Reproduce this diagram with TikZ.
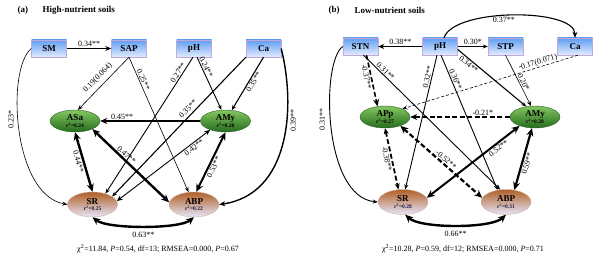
\documentclass[tikz,border=0pt]{standalone}
\usepackage{fontspec}
\setmainfont{Liberation Serif}
\usetikzlibrary{arrows.meta, shapes.geometric}

\definecolor{boxtop}{RGB}{96,158,242}
\definecolor{boxbot}{RGB}{226,236,255}
\definecolor{boxline}{RGB}{196,168,214}
\definecolor{fungtop}{RGB}{132,198,96}
\definecolor{fungbot}{RGB}{36,108,30}
\definecolor{fungline}{RGB}{46,100,40}
\definecolor{resptop}{RGB}{176,96,38}
\definecolor{respbot}{RGB}{230,230,250}
\definecolor{respline}{RGB}{205,175,160}
\definecolor{rtext}{RGB}{20,30,80}

% nom de la variable + r^2
\newcommand{\latlab}[3][black]{\textbf{#2}\\[-2.5pt]{\fontsize{5.5}{6}\selectfont\bfseries\color{#1}r\textsuperscript{2}=#3}}

\begin{document}
\begin{tikzpicture}[
    x=1pt, y=-1pt,
    font=\fontsize{8}{9}\selectfont,
    >={Stealth[length=5pt,width=4pt]},
    var/.style={draw=boxline, line width=0.4pt, top color=boxtop, bottom color=boxbot, minimum width=35pt, minimum height=17pt, inner sep=0pt, font=\fontsize{9}{10}\selectfont\bfseries},
    fung/.style={ellipse, draw=fungline, line width=0.4pt, top color=fungtop, bottom color=fungbot, minimum width=50pt, minimum height=22pt, inner sep=0pt, align=center, font=\fontsize{9}{9}\selectfont},
    resp/.style={ellipse, draw=respline, line width=0.4pt, top color=resptop, bottom color=respbot, minimum width=50pt, minimum height=25pt, inner sep=0pt, align=center, font=\fontsize{9}{9}\selectfont},
    lbl/.style={inner sep=1pt, font=\fontsize{8}{9}\selectfont},
    ttl/.style={anchor=west, font=\fontsize{9}{10}\selectfont\bfseries},
    arr/.style={->, line width=0.6pt},
    arrm/.style={->, line width=1.1pt, >={Stealth[length=6pt,width=5pt]}},
    arrs/.style={->, line width=1.6pt, >={Stealth[length=7pt,width=6pt]}},
    dbl/.style={<->, line width=1.1pt, >={Stealth[length=6pt,width=5pt]}},
    dbls/.style={<->, line width=2.4pt, >={Stealth[length=8pt,width=7pt]}},
    neg/.style={dash pattern=on 5pt off 2.5pt},
]
\useasboundingbox (0,0) rectangle (600,270);

% --- Panel (a) : sols riches ---
\node[ttl] (taga) at (14,10.5) {(a)};
\node[ttl] (titlea) at (39,10.5) {High-nutrient soils};

\node[var] (SMa) at (49,48.5) {SM};
\node[var] (SAPa) at (129,48.5) {SAP};
\node[var] (pHa) at (194,48.5) {pH};
\node[var] (Caa) at (263.5,48.5) {Ca};
\node[fung] (ASa) at (75,121) {\latlab{ASa}{0.24}};
\node[fung] (AMya) at (225.5,121) {\latlab{AMy}{0.28}};
\node[resp] (SRa) at (92.5,204.5) {\latlab[rtext]{SR}{0.25}};
\node[resp] (ABPa) at (194,204.5) {\latlab[rtext]{ABP}{0.22}};

\draw[arrm] (SMa) -- node[lbl, above]{0.34**} (SAPa);
\draw[arr] (SAPa.south) -- node[lbl, pos=0.5, sloped, above=3pt]{0.19(0.064)} (ASa.75);
\draw[arr] (SAPa.south) -- node[lbl, pos=0.18, sloped, above]{0.25**} (ABPa);
\draw[arr, line width=0.9pt] ([xshift=-1pt]pHa.south) -- node[lbl, pos=0.13, sloped, above]{0.27**} (SRa.40);
\draw[arr, line width=0.9pt] ([xshift=3pt]pHa.south) -- node[lbl, pos=0.22, sloped, above]{0.24**} (AMya.110);
\draw[arr, line width=1.1pt] (Caa.south west) -- node[lbl, pos=0.4, sloped, above=2pt]{0.35**} (SRa.22);
\draw[arr, line width=1.1pt] (Caa.south) -- node[lbl, pos=0.43, sloped, below]{0.35**} (AMya.60);
\draw[dbl, line width=0.9pt] (SRa.8) -- node[lbl, pos=0.8, sloped, below]{0.42**} (AMya.210);
\draw[arrs] (AMya) -- node[lbl, pos=0.78, above]{0.45**} (ASa);
\draw[dbls] (ASa.south) -- node[lbl, pos=0.47, sloped, below]{0.44**} (SRa.north);
\draw[dbls] (ASa.335) -- node[lbl, pos=0.4, sloped, above]{0.47**} (ABPa.175);
\draw[dbls, line width=2pt] (AMya.south) -- node[lbl, pos=0.55, sloped, below]{0.53**} (ABPa.80);
\draw[arrm, line width=1.4pt] (Caa.east) .. controls +(15,60) and +(70,-10) .. node[lbl, pos=0.37, rotate=90, anchor=north, inner sep=3pt]{0.39**} (ABPa.east);
\draw[arr] (SMa.west) .. controls +(-25,20) and +(-55,-10) .. node[lbl, pos=0.45, rotate=90, anchor=south, inner sep=4pt]{0.23*} (SRa.west);
\draw[dbls] (SRa.south) .. controls +(15,12) and +(-15,12) .. node[lbl, pos=0.5, below, inner sep=5pt]{0.63**} (ABPa.south);

\node (fita) at (158,249) {χ\textsuperscript{2}=11.84, \textit{P}=0.54, df=13; RMSEA=0.000, \textit{P}=0.67};

% --- Panel (b) : sols pauvres ---
\node[ttl] (tagb) at (325,10.5) {(b)};
\node[ttl] (titleb) at (351,10.5) {Low-nutrient soils};

\node[var] (STNb) at (360.5,46.5) {STN};
\node[var] (pHb) at (440,46.5) {pH};
\node[var] (STPb) at (505.5,46.5) {STP};
\node[var] (Cab) at (575,46.5) {Ca};
\node[fung] (APpb) at (385,117) {\latlab{APp}{0.27}};
\node[fung] (AMyb) at (535,117) {\latlab{AMy}{0.20}};
\node[resp] (SRb) at (403,202) {\latlab[rtext]{SR}{0.28}};
\node[resp] (ABPb) at (506,202) {\latlab[rtext]{ABP}{0.31}};

\draw[arrm] (pHb) -- node[lbl, above]{0.38**} (STNb);
\draw[arr, line width=0.9pt] (pHb) -- node[lbl, above]{0.30*} (STPb);
\draw[arrm] ([xshift=4pt]pHb.north) .. controls +(10,-30) and +(0,-30) .. node[lbl, pos=0.45, below]{0.37**} (Cab.north);
\draw[arr, line width=0.9pt] (STNb.west) .. controls +(-22,15) and +(-55,-5) .. node[lbl, pos=0.46, rotate=90, anchor=south, inner sep=5pt]{0.31**} (SRb.west);
\draw[arrs, neg] ([xshift=6pt]STNb.south) -- node[lbl, pos=0.4, sloped, below]{-0.37**} (APpb.125);
\draw[arr, line width=0.9pt] ([xshift=3pt]STNb.south) -- node[lbl, pos=0.14, sloped, above]{0.31**} (ABPb.115);
\draw[arr, line width=0.9pt] ([xshift=-3pt]pHb.south) -- node[lbl, pos=0.17, sloped, above]{0.32**} (SRb.80);
\draw[arr, line width=0.9pt] ([xshift=1pt]pHb.south) -- node[lbl, pos=0.19, sloped, above]{0.36**} (ABPb.125);
\draw[arr, line width=1.1pt] ([yshift=-3pt]pHb.east) -- node[lbl, pos=0.2, sloped, below]{0.34**} (AMyb.130);
\draw[arr] (STPb.south) -- node[lbl, pos=0.57, sloped, above]{0.20*} (AMyb.110);
\draw[arr, dash pattern=on 3pt off 2pt] ([xshift=3pt]Cab.south) -- node[lbl, pos=0.22, sloped, above]{-0.17(0.071)} (APpb.25);
\draw[arrs, neg, line width=1.4pt] (AMyb) -- node[lbl, pos=0.27, above]{-0.21*} (APpb);
\draw[dbl, neg, line width=1.8pt] (APpb.south) -- node[lbl, pos=0.48, sloped, below]{-0.38**} (SRb.110);
\draw[dbls, neg, line width=2.2pt] (APpb.-30) -- node[lbl, pos=0.52, sloped, above]{-0.52**} (ABPb.170);
\draw[dbls, line width=2pt] (SRb.10) -- node[lbl, pos=0.74, sloped, below]{0.52**} (AMyb.210);
\draw[dbls, line width=2.2pt] (AMyb.255) -- node[lbl, pos=0.55, sloped, below]{0.59**} (ABPb.55);
\draw[dbls] (SRb.-80) .. controls +(15,14) and +(-15,14) .. node[lbl, pos=0.5, below, inner sep=5pt]{0.66**} (ABPb.south);

\node (fitb) at (463,249) {χ\textsuperscript{2}=10.28, \textit{P}=0.59, df=12; RMSEA=0.000, \textit{P}=0.71};

\end{tikzpicture}
\end{document}
